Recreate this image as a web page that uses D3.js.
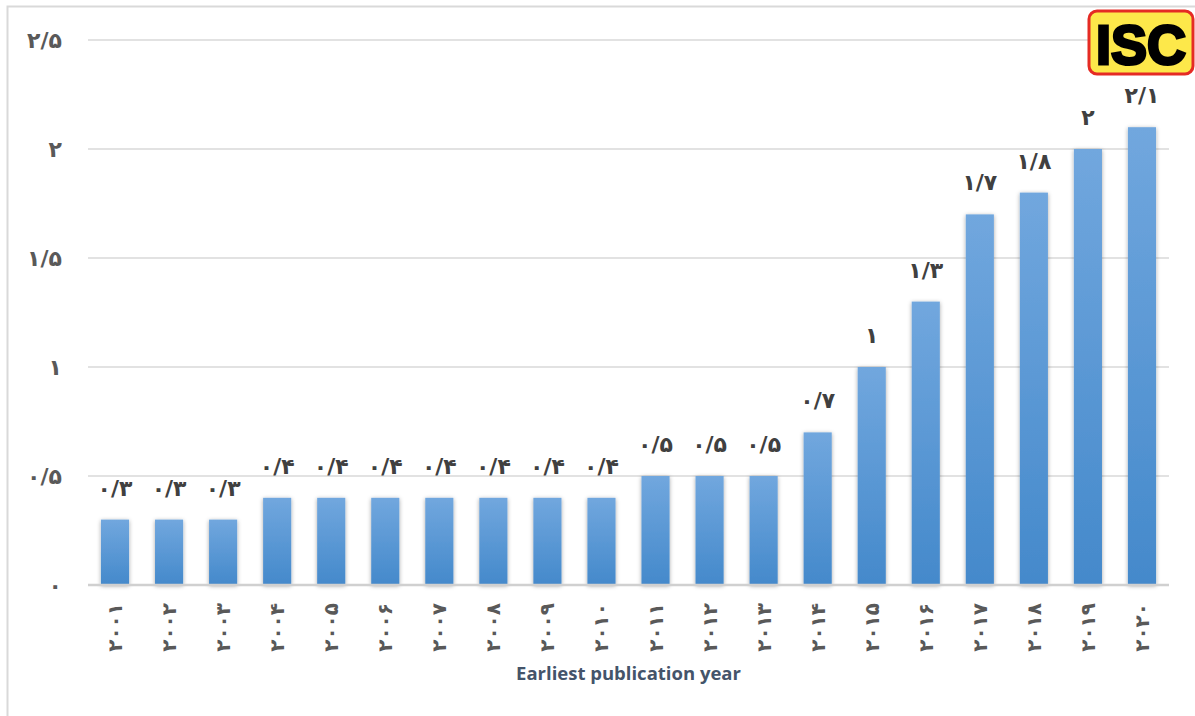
<!DOCTYPE html>
<html>
<head>
<meta charset="utf-8">
<script src="https://cdn.jsdelivr.net/npm/d3@7"></script>
<style>
  body { margin: 0; background: #fff; }
  svg { display: block; }
</style>
</head>
<body>
<div id="chart"></div>
<script>
// chart data
var years = ['۲۰۰۱', '۲۰۰۲', '۲۰۰۳', '۲۰۰۴', '۲۰۰۵', '۲۰۰۶', '۲۰۰۷', '۲۰۰۸', '۲۰۰۹', '۲۰۱۰',
             '۲۰۱۱', '۲۰۱۲', '۲۰۱۳', '۲۰۱۴', '۲۰۱۵', '۲۰۱۶', '۲۰۱۷', '۲۰۱۸', '۲۰۱۹', '۲۰۲۰'];
var values = [0.3, 0.3, 0.3, 0.4, 0.4, 0.4, 0.4, 0.4, 0.4, 0.4,
              0.5, 0.5, 0.5, 0.7, 1, 1.3, 1.7, 1.8, 2, 2.1];
var yTicks = [0, 0.5, 1, 1.5, 2, 2.5];
var yTickLabels = ['۰', '۰/۵', '۱', '۱/۵', '۲', '۲/۵'];
var xTitle = 'Earliest publication year';

// persian digits, "/" as decimal mark
function fa(v) {
  return String(v).replace('.', '/').replace(/[0-9]/g, function(c) { return '۰۱۲۳۴۵۶۷۸۹'[+c]; });
}

var W = 1195, H = 716;
var margin = { left: 88, right: 26, top: 40, bottom: 131 };
var w = W - margin.left - margin.right;
var h = H - margin.top - margin.bottom;

var svg = d3.select('#chart').append('svg')
  .attr('width', W)
  .attr('height', H);

var defs = svg.append('defs');
var grad = defs.append('linearGradient')
  .attr('id', 'barGrad')
  .attr('x1', 0).attr('y1', 0).attr('x2', 0).attr('y2', 1);
grad.append('stop').attr('offset', '0%').attr('stop-color', '#71a7de');
grad.append('stop').attr('offset', '100%').attr('stop-color', '#4489cb');
var shadow = defs.append('filter')
  .attr('id', 'shadow')
  .attr('x', '-30%').attr('y', '-10%').attr('width', '160%').attr('height', '120%');
shadow.append('feDropShadow')
  .attr('dx', 0).attr('dy', 1)
  .attr('stdDeviation', 2.2)
  .attr('flood-color', '#000')
  .attr('flood-opacity', 0.35);

// outer frame
svg.append('rect')
  .attr('x', 7.5).attr('y', 6.5)
  .attr('width', W).attr('height', H + 10)
  .attr('fill', 'none')
  .attr('stroke', '#d9d9d9')
  .attr('stroke-width', 2);

var g = svg.append('g')
  .attr('transform', 'translate(' + margin.left + ',' + margin.top + ')');

var x = d3.scaleBand().domain(years).range([0, w]).paddingInner(0.48).paddingOuter(0.24);
var y = d3.scaleLinear().domain([0, 2.5]).range([h, 0]);

// gridlines
g.append('g')
  .selectAll('line')
  .data(yTicks.slice(1))
  .join('line')
  .attr('x1', 0).attr('x2', w)
  .attr('y1', function(d) { return y(d); })
  .attr('y2', function(d) { return y(d); })
  .attr('stroke', '#d9d9d9')
  .attr('stroke-width', 1.5);

// y axis labels
var yAxis = d3.axisLeft(y)
  .tickValues(yTicks)
  .tickSize(0)
  .tickPadding(26)
  .tickFormat(function(d, i) { return yTickLabels[i]; });
g.append('g')
  .call(yAxis)
  .call(function(a) { a.select('.domain').remove(); })
  .selectAll('text')
  .attr('font-family', 'DejaVu Sans')
  .attr('font-weight', 'bold')
  .attr('font-size', 22)
  .attr('fill', '#595959');

// bars
g.append('g')
  .selectAll('rect')
  .data(values)
  .join('rect')
  .attr('x', function(d, i) { return x(years[i]); })
  .attr('y', function(d) { return y(d); })
  .attr('width', x.bandwidth())
  .attr('height', function(d) { return h - y(d); })
  .attr('fill', 'url(#barGrad)')
  .attr('filter', 'url(#shadow)');

// baseline
g.append('line')
  .attr('x1', 0).attr('x2', w)
  .attr('y1', h).attr('y2', h)
  .attr('stroke', '#d0d0d0')
  .attr('stroke-width', 2.5);

// value labels
g.append('g')
  .selectAll('text')
  .data(values)
  .join('text')
  .attr('x', function(d, i) { return x(years[i]) + x.bandwidth() / 2; })
  .attr('y', function(d) { return y(d) - 24; })
  .attr('text-anchor', 'middle')
  .attr('font-family', 'DejaVu Sans')
  .attr('font-weight', 'bold')
  .attr('font-size', 22)
  .attr('fill', '#404040')
  .text(function(d) { return fa(d); });

// x axis labels, rotated
g.append('g')
  .selectAll('text')
  .data(years)
  .join('text')
  .attr('transform', function(d) {
    return 'translate(' + (x(d) + x.bandwidth() / 2) + ',' + (h + 18) + ') rotate(-90)';
  })
  .attr('dy', '0.35em')
  .attr('text-anchor', 'end')
  .attr('font-family', 'DejaVu Sans')
  .attr('font-weight', 'bold')
  .attr('font-size', 20)
  .attr('fill', '#595959')
  .text(function(d) { return d; });

// axis title
g.append('text')
  .attr('x', w / 2)
  .attr('y', h + 95)
  .attr('text-anchor', 'middle')
  .attr('font-family', 'Open Sans')
  .attr('font-weight', 'bold')
  .attr('font-size', 18.5)
  .attr('fill', '#44546a')
  .text(xTitle);

// ISC logo
var logo = svg.append('g').attr('transform', 'translate(1089,11)');
logo.append('rect')
  .attr('width', 104).attr('height', 63).attr('rx', 8)
  .attr('fill', '#fde84a')
  .attr('stroke', '#e52b24')
  .attr('stroke-width', 3);
logo.append('text')
  .attr('x', 52).attr('y', 53)
  .attr('text-anchor', 'middle')
  .attr('font-family', 'Liberation Sans')
  .attr('font-weight', 'bold')
  .attr('font-size', 56)
  .attr('textLength', 90)
  .attr('lengthAdjust', 'spacingAndGlyphs')
  .attr('fill', '#000')
  .attr('stroke', '#000')
  .attr('stroke-width', 3)
  .text('ISC');
</script>
</body>
</html>
